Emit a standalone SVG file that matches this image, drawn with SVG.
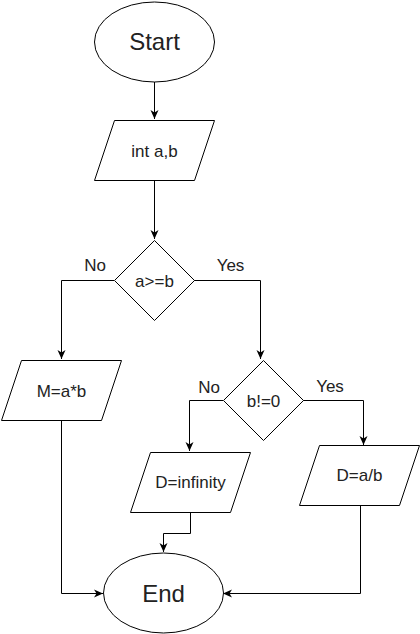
<svg xmlns="http://www.w3.org/2000/svg" width="420" height="634" viewBox="0 0 420 634">
<style>
.s{fill:#fff;stroke:#000;stroke-width:1}
.c{fill:none;stroke:#000;stroke-width:1}
.t{font-family:"Liberation Sans",Arial,sans-serif;font-size:17px;fill:#222;text-anchor:middle}
.big{font-size:24px}
</style>
<defs>
<marker id="a" markerUnits="userSpaceOnUse" markerWidth="10" markerHeight="9" refX="9" refY="4.5" orient="auto">
<path d="M0,0.5 L9,4.5 L0,8.5 L2.5,4.5 Z" fill="#000"/>
</marker>
</defs>
<g id="connectors">
<path class="c" d="M154.5,82 V119" marker-end="url(#a)"/>
<path class="c" d="M154.5,180 V239" marker-end="url(#a)"/>
<path class="c" d="M114,280.5 H61.5 V359" marker-end="url(#a)"/>
<path class="c" d="M194,280.5 H260.5 V359" marker-end="url(#a)"/>
<path class="c" d="M223,400.5 H189.5 V451" marker-end="url(#a)"/>
<path class="c" d="M303,400.5 H363.5 V445" marker-end="url(#a)"/>
<path class="c" d="M61.5,420 V593.5 H103" marker-end="url(#a)"/>
<path class="c" d="M190.5,512 V533.5 H163.5 V552" marker-end="url(#a)"/>
<path class="c" d="M360.5,505 V593.5 H223" marker-end="url(#a)"/>
<text class="t" x="95" y="271">No</text>
<text class="t" x="230.5" y="271">Yes</text>
<text class="t" x="209" y="393">No</text>
<text class="t" x="330" y="392">Yes</text>
</g>
<g id="start">
<ellipse class="s" cx="154.5" cy="42" rx="60" ry="40"/>
<text class="t big" x="154.5" y="50">Start</text>
</g>
<g id="input">
<path class="s" d="M114.5,120.5 H214.5 L194.5,180.5 H94.5 Z"/>
<text class="t" x="154.5" y="156.5">int a,b</text>
</g>
<g id="cond1">
<path class="s" d="M154.5,240.5 L194.5,280.5 L154.5,320.5 L114.5,280.5 Z"/>
<text class="t" x="154.5" y="286.5">a&gt;=b</text>
</g>
<g id="mul">
<path class="s" d="M21.5,360.5 H121.5 L101.5,420.5 H1.5 Z"/>
<text class="t" x="61.5" y="396.5">M=a*b</text>
</g>
<g id="cond2">
<path class="s" d="M263.5,360.5 L303.5,400.5 L263.5,440.5 L223.5,400.5 Z"/>
<text class="t" x="263.5" y="406.5">b!=0</text>
</g>
<g id="dinf">
<path class="s" d="M150.5,452.5 H250.5 L230.5,512.5 H130.5 Z"/>
<text class="t" x="190.5" y="488">D=infinity</text>
</g>
<g id="ddiv">
<path class="s" d="M319.5,445.5 H419.5 L399.5,505.5 H299.5 Z"/>
<text class="t" x="359.5" y="481">D=a/b</text>
</g>
<g id="end">
<ellipse class="s" cx="163.5" cy="593" rx="60" ry="40"/>
<text class="t big" x="163.5" y="601.5">End</text>
</g>
</svg>
